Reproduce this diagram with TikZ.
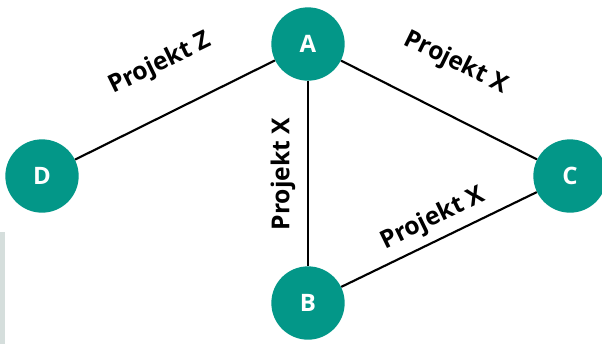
\documentclass[tikz,border=0pt]{standalone}
\usepackage{fontspec}
\setmainfont{Open Sans}
\usepackage{tikz, xcolor}
\definecolor{teal1}{RGB}{3,151,136}
\definecolor{bargrey}{RGB}{213,222,220}

\begin{document}
\begin{tikzpicture}[x=0.75pt, y=-0.75pt,
    person/.style={circle, fill=teal1, minimum size=55pt, inner sep=0pt,
      text=white, font=\bfseries\fontsize{18}{20}\selectfont},
    proj/.style={font=\bfseries\fontsize{18.5}{20}\selectfont}]
    \useasboundingbox (0, 0) rectangle (602, 344);
    \fill [bargrey] (0, 232) rectangle (5, 344);

    \node [person] (a) at (308, 44) {A};
    \node [person] (d) at (42, 176) {D};
    \node [person] (c) at (570, 176) {C};
    \node [person] (b) at (308, 303) {B};

    \draw [line width=1.6pt] (a) to (d);
    \draw [line width=1.6pt] (a) to (c);
    \draw [line width=1.6pt] (a) to (b);
    \draw [line width=1.6pt] (b) to (c);

    \node [proj, rotate=26] (pz) at (160, 64) {Projekt Z};
    \node [proj, rotate=-26] (px1) at (456, 63) {Projekt X};
    \node [proj, rotate=90] (px2) at (283, 174) {Projekt X};
    \node [proj, rotate=26] (px3) at (433, 219) {Projekt X};

  \end{tikzpicture}
\end{document}
